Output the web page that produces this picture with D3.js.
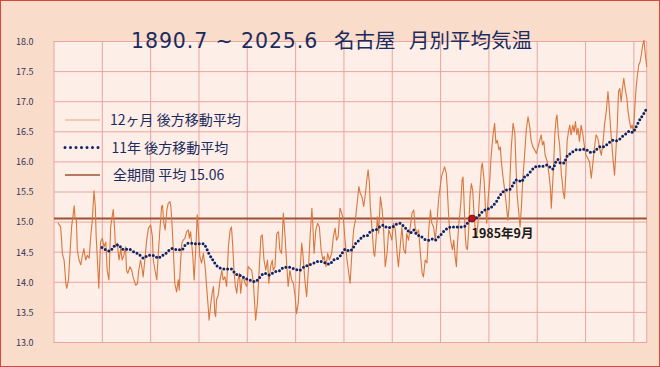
<!DOCTYPE html>
<html>
<head>
<meta charset="utf-8">
<script src="https://cdn.jsdelivr.net/npm/d3@7/dist/d3.min.js"></script>
<style>
  html, body { margin: 0; padding: 0; background: #fff; }
  svg { display: block; font-family: "Noto Sans CJK JP", "Noto Sans", sans-serif; }
</style>
</head>
<body>
<div id="chart"></div>
<script>
// 12ヶ月 後方移動平均 [年(小数), 気温]  ※画像から読み取り
const avg12m = [
  [1891.4,14.99],[1892.0,14.92],[1892.2,14.73],[1892.4,14.48],[1892.8,14.37],[1893.2,13.98],[1893.4,13.90],
  [1893.8,14.04],[1894.1,14.43],[1894.5,14.92],[1894.8,15.09],[1895.1,15.27],[1895.3,15.06],[1895.6,15.03],
  [1895.8,14.54],[1896.2,14.37],[1896.6,14.29],[1896.9,14.42],[1897.3,14.56],[1897.7,14.37],[1898.1,14.45],
  [1898.5,14.40],[1898.9,14.79],[1899.2,15.01],[1899.6,15.52],[1899.9,15.26],[1900.1,14.76],[1900.5,14.20],
  [1900.7,13.90],[1901.1,14.67],[1901.5,14.73],[1901.9,14.59],[1902.3,14.67],[1902.6,14.20],[1903.0,14.04],
  [1903.4,14.92],[1903.8,15.12],[1904.0,15.21],[1904.3,14.87],[1904.5,14.59],[1904.9,14.65],[1905.3,14.37],
  [1905.7,14.56],[1906.0,14.37],[1906.4,14.45],[1906.8,14.59],[1907.0,14.20],[1907.3,14.15],[1907.8,14.26],
  [1908.2,14.20],[1908.5,14.09],[1909.1,13.95],[1909.5,13.98],[1909.8,14.20],[1910.2,14.37],[1910.6,14.20],
  [1910.8,14.09],[1911.1,14.32],[1911.6,14.70],[1912.0,14.90],[1912.5,14.95],[1912.9,14.76],[1913.1,14.37],
  [1913.5,14.20],[1913.9,14.04],[1914.2,14.43],[1914.6,14.87],[1915.0,15.26],[1915.2,15.28],[1915.5,14.98],
  [1915.8,14.87],[1916.2,15.20],[1916.5,15.31],[1916.9,15.34],[1917.1,15.26],[1917.4,14.92],[1917.7,14.48],
  [1918.0,13.98],[1918.4,13.84],[1918.8,14.04],[1919.0,13.87],[1919.3,14.32],[1919.6,14.65],[1919.9,14.70],
  [1920.3,14.73],[1920.7,14.84],[1921.1,14.87],[1921.3,14.73],[1921.6,14.84],[1922.1,14.43],[1922.4,14.04],
  [1922.8,14.59],[1923.1,15.12],[1923.4,14.81],[1923.7,14.43],[1924.1,14.32],[1924.5,14.48],[1924.9,14.26],
  [1925.3,13.87],[1925.6,13.59],[1925.8,13.37],[1926.2,13.65],[1926.5,13.82],[1926.8,13.93],[1927.1,13.48],
  [1927.3,13.43],[1927.5,13.71],[1927.9,13.79],[1928.3,14.04],[1928.7,14.20],[1929.0,14.04],[1929.4,14.09],
  [1929.8,13.93],[1930.2,14.59],[1930.6,14.87],[1930.9,14.92],[1931.2,14.59],[1931.5,14.15],[1931.8,13.93],
  [1932.1,13.82],[1932.4,14.04],[1932.7,14.15],[1933.0,13.82],[1933.3,14.04],[1933.6,14.09],[1934.0,13.98],
  [1934.4,13.93],[1934.7,14.26],[1935.5,14.20],[1935.9,13.98],[1936.4,13.37],[1936.8,13.65],[1937.2,14.20],
  [1937.6,14.76],[1937.9,14.79],[1938.3,14.37],[1938.7,14.20],[1939.1,14.37],[1939.4,13.98],[1939.8,14.26],
  [1940.2,14.37],[1940.4,14.20],[1940.8,14.26],[1941.2,14.81],[1941.6,14.84],[1941.9,14.54],[1942.3,14.48],
  [1942.7,15.15],[1943.1,14.76],[1943.5,14.26],[1943.8,13.93],[1944.2,14.20],[1944.6,14.04],[1945.0,13.98],
  [1945.4,13.76],[1945.7,13.48],[1946.1,13.65],[1946.5,14.20],[1946.9,14.65],[1947.2,14.43],[1947.6,14.04],
  [1948.0,13.76],[1948.4,14.20],[1948.8,14.76],[1949.2,15.23],[1949.4,14.98],[1949.7,14.48],[1950.1,14.87],
  [1950.5,14.98],[1950.9,14.92],[1951.3,14.54],[1951.7,14.37],[1952.0,14.43],[1952.4,14.26],[1952.8,14.48],
  [1953.2,14.37],[1953.7,14.48],[1954.1,14.76],[1954.5,14.90],[1954.8,14.70],[1955.2,14.76],[1955.6,15.23],
  [1956.0,15.15],[1956.4,15.03],[1956.8,14.65],[1957.2,14.37],[1957.6,14.15],[1957.9,13.98],[1958.3,14.48],
  [1958.7,14.87],[1959.1,15.03],[1959.5,15.31],[1959.9,15.59],[1960.2,15.48],[1960.6,15.42],[1961.0,15.26],
  [1961.4,15.48],[1961.7,15.70],[1962.0,15.87],[1962.3,15.64],[1962.5,15.26],[1962.9,14.87],[1963.3,14.48],
  [1963.5,14.43],[1963.8,14.70],[1964.1,15.09],[1964.4,14.81],[1964.8,15.42],[1965.2,15.20],[1965.5,14.92],
  [1965.9,14.26],[1966.3,14.48],[1966.7,14.87],[1967.0,14.81],[1967.4,14.70],[1967.8,14.98],[1968.2,14.87],
  [1968.6,14.48],[1968.9,14.26],[1969.3,14.59],[1969.7,14.92],[1970.1,14.54],[1970.5,14.48],[1970.8,14.81],
  [1971.2,14.70],[1971.6,14.92],[1972.0,15.15],[1972.4,15.20],[1972.7,14.92],[1973.1,14.81],[1973.5,14.87],
  [1973.9,14.48],[1974.3,14.15],[1974.6,14.09],[1975.0,14.37],[1975.4,14.32],[1975.8,14.87],[1976.2,15.20],
  [1976.5,14.98],[1976.9,14.92],[1977.3,14.70],[1977.7,15.03],[1978.1,15.42],[1978.7,15.75],[1979.4,15.92],
  [1979.8,15.81],[1980.0,15.59],[1980.3,15.15],[1980.6,14.81],[1980.9,14.65],[1981.2,14.54],[1981.5,14.70],
  [1981.8,14.43],[1982.1,14.26],[1982.3,14.59],[1982.6,14.92],[1983.1,15.31],[1983.4,15.70],[1983.6,15.75],
  [1983.8,15.42],[1984.1,14.81],[1984.3,14.59],[1984.6,14.54],[1984.9,14.87],[1985.2,15.42],[1985.5,15.64],
  [1985.8,15.53],[1986.1,15.15],[1986.4,14.87],[1986.7,14.76],[1987.0,14.98],[1987.4,15.48],[1987.8,15.92],
  [1988.0,15.98],[1988.4,15.70],[1988.7,15.26],[1989.0,14.98],[1989.3,15.37],[1989.7,15.70],[1990.0,16.09],
  [1990.4,16.42],[1990.8,16.64],[1991.1,16.31],[1991.4,16.36],[1991.8,16.20],[1992.1,16.25],[1992.3,16.03],
  [1992.7,15.75],[1993.1,15.53],[1993.5,15.26],[1993.8,15.03],[1994.1,15.26],[1994.3,15.75],[1994.6,16.25],
  [1995.0,16.64],[1995.4,16.48],[1995.7,15.87],[1995.9,15.48],[1996.3,15.15],[1996.6,14.92],[1996.9,15.26],
  [1997.2,15.70],[1997.6,16.09],[1998.0,16.53],[1998.4,16.75],[1998.8,16.58],[1999.1,16.36],[1999.5,16.25],
  [1999.9,16.20],[2000.3,16.14],[2000.7,16.25],[2001.0,16.34],[2001.4,16.45],[2001.7,16.28],[2002.0,16.34],
  [2002.3,16.11],[2002.8,16.00],[2003.2,15.78],[2003.5,15.56],[2003.7,15.23],[2003.9,15.50],[2004.2,15.89],
  [2004.5,16.45],[2004.8,16.72],[2005.0,16.78],[2005.3,16.45],[2005.6,16.28],[2006.0,15.78],[2006.2,15.67],
  [2006.4,15.50],[2006.7,15.39],[2007.0,15.78],[2007.3,16.34],[2007.6,16.50],[2007.9,16.61],[2008.2,16.45],
  [2008.6,16.61],[2008.9,16.50],[2009.2,16.67],[2009.5,16.45],[2009.8,16.56],[2010.1,16.34],[2010.5,16.61],
  [2010.9,16.45],[2011.3,16.23],[2011.6,16.11],[2012.0,16.06],[2012.4,16.00],[2012.8,15.73],[2013.2,16.00],
  [2013.6,16.28],[2013.9,16.45],[2014.3,16.39],[2014.7,16.23],[2015.1,16.11],[2015.5,16.34],[2015.8,16.61],
  [2016.2,16.83],[2016.6,17.17],[2016.9,16.89],[2017.2,16.56],[2017.5,16.28],[2017.8,16.00],[2018.1,15.78],
  [2018.4,16.17],[2018.7,16.56],[2019.0,17.17],[2019.3,17.22],[2019.6,17.00],[2019.9,17.22],[2020.2,17.39],
  [2020.5,17.22],[2020.9,17.06],[2021.1,16.89],[2021.4,16.72],[2021.8,16.56],[2022.1,16.61],[2022.4,16.50],
  [2022.7,16.89],[2023.0,17.22],[2023.3,17.44],[2023.6,17.61],[2023.9,17.66],[2024.2,17.78],[2024.5,17.94],
  [2024.8,18.02],[2025.1,17.78],[2025.42,17.58]
];

// 11年 後方移動平均 [年(小数), 気温]
const avg11y = [
  [1901.42,14.58],[1902.3,14.54],[1903.2,14.52],[1903.8,14.56],[1904.5,14.62],[1905.3,14.62],[1906.0,14.55],
  [1906.8,14.55],[1907.6,14.55],[1908.3,14.52],[1909.1,14.49],[1909.8,14.47],[1910.4,14.42],[1911.0,14.40],
  [1911.7,14.44],[1912.5,14.45],[1913.5,14.44],[1914.2,14.40],[1915.0,14.44],[1915.8,14.47],[1916.5,14.52],
  [1917.3,14.56],[1918.0,14.55],[1918.8,14.54],[1919.6,14.54],[1920.3,14.61],[1921.1,14.65],[1921.8,14.65],
  [1922.6,14.64],[1923.3,14.64],[1924.5,14.64],[1925.3,14.55],[1925.8,14.47],[1926.4,14.40],[1927.1,14.32],
  [1927.9,14.25],[1928.7,14.23],[1929.4,14.22],[1930.2,14.22],[1930.9,14.22],[1931.7,14.15],[1932.4,14.12],
  [1933.2,14.11],[1934.0,14.06],[1934.7,14.05],[1935.3,14.03],[1936.3,14.01],[1937.2,14.07],[1938.4,14.15],
  [1939.5,14.12],[1940.6,14.17],[1941.8,14.19],[1942.9,14.25],[1944.1,14.25],[1945.2,14.22],[1946.3,14.20],
  [1947.5,14.26],[1948.6,14.29],[1949.7,14.32],[1950.9,14.35],[1952.0,14.33],[1953.2,14.30],[1954.1,14.37],
  [1955.1,14.40],[1955.8,14.45],[1956.8,14.55],[1957.7,14.52],[1958.5,14.56],[1959.2,14.65],[1960.0,14.70],
  [1961.0,14.77],[1961.7,14.77],[1962.5,14.84],[1963.3,14.87],[1964.0,14.88],[1964.8,14.93],[1965.5,14.95],
  [1966.3,14.91],[1967.0,14.91],[1967.8,14.93],[1968.6,14.97],[1969.3,14.98],[1970.1,14.93],[1970.8,14.88],
  [1971.6,14.82],[1972.4,14.87],[1973.1,14.79],[1973.9,14.77],[1975.0,14.71],[1975.8,14.70],[1976.5,14.72],
  [1977.3,14.70],[1978.1,14.76],[1978.7,14.80],[1979.4,14.86],[1980.2,14.90],[1980.9,14.92],[1981.7,14.92],
  [1982.5,14.92],[1983.2,14.92],[1984.0,14.93],[1984.7,14.99],[1985.67,15.06],[1986.6,15.07],[1987.4,15.12],
  [1988.1,15.18],[1988.9,15.21],[1989.7,15.23],[1990.4,15.27],[1991.2,15.34],[1991.9,15.43],[1992.7,15.50],
  [1993.4,15.53],[1994.2,15.54],[1995.0,15.62],[1995.6,15.70],[1996.1,15.70],[1996.9,15.67],[1997.6,15.75],
  [1998.4,15.79],[1999.1,15.85],[1999.9,15.91],[2000.7,15.93],[2001.4,15.92],[2002.2,15.94],[2002.8,15.95],
  [2003.6,15.90],[2004.1,15.88],[2004.6,15.98],[2005.2,16.04],[2005.8,15.98],[2006.6,15.98],[2007.1,16.07],
  [2007.9,16.13],[2008.6,16.17],[2009.4,16.20],[2010.2,16.20],[2010.9,16.21],[2011.7,16.20],[2012.4,16.16],
  [2013.2,16.16],[2013.9,16.20],[2014.7,16.25],[2015.5,16.25],[2016.2,16.28],[2017.0,16.33],[2017.7,16.36],
  [2018.5,16.35],[2019.3,16.38],[2020.0,16.43],[2020.8,16.47],[2021.5,16.51],[2022.3,16.49],[2022.9,16.57],
  [2023.4,16.64],[2024.0,16.72],[2024.6,16.78],[2025.1,16.85],[2025.42,16.88]
];

const overallMean = 15.06;
const markerPoint = [1985 + 8 / 12, 15.06];
const markerLabel = "1985年9月";
const yTicks = [13.0, 13.5, 14.0, 14.5, 15.0, 15.5, 16.0, 16.5, 17.0, 17.5, 18.0];
const legendLabels = ["12ヶ月 後方移動平均", "11年 後方移動平均", "全期間 平均 15.06"];
const titleParts = ["1890.7 ~ 2025.6", "名古屋", "月別平均気温"];

const W = 660, H = 367;
const plot = { left: 54, top: 41.5, right: 646.7, bottom: 342.5 };

const svg = d3.select("#chart").append("svg")
  .attr("width", W)
  .attr("height", H);

// 背景
svg.append("rect")
  .attr("x", 0.5).attr("y", 0.5)
  .attr("width", W - 1).attr("height", H - 1)
  .attr("fill", "#fadccb")
  .attr("stroke", "#d9473c")
  .attr("stroke-width", 1);

svg.append("rect")
  .attr("x", plot.left).attr("y", plot.top)
  .attr("width", plot.right - plot.left)
  .attr("height", plot.bottom - plot.top)
  .attr("fill", "#fdeee7");

const x = d3.scaleLinear()
  .domain([1890.5, 2025 + 5 / 12])
  .range([plot.left, plot.right]);

const y = d3.scaleLinear()
  .domain([13, 18])
  .range([plot.bottom, plot.top]);

// グリッド（縦線は11年ごと）
const vGrid = d3.range(1890.5 + 11, 2025, 11);
svg.selectAll("line.vgrid").data(vGrid).enter()
  .append("line")
  .attr("class", "vgrid")
  .attr("x1", d => x(d)).attr("x2", d => x(d))
  .attr("y1", plot.top).attr("y2", plot.bottom)
  .attr("stroke", "#eba4a0")
  .attr("stroke-width", 1);

svg.selectAll("line.hgrid").data(yTicks).enter()
  .append("line")
  .attr("class", "hgrid")
  .attr("x1", plot.left).attr("x2", plot.right)
  .attr("y1", d => y(d)).attr("y2", d => y(d))
  .attr("stroke", "#eba4a0")
  .attr("stroke-width", 1);

svg.append("rect")
  .attr("x", plot.left).attr("y", plot.top)
  .attr("width", plot.right - plot.left)
  .attr("height", plot.bottom - plot.top)
  .attr("fill", "none")
  .attr("stroke", "#eba4a0");

// Y軸ラベル
svg.append("g")
  .attr("transform", `translate(${plot.left - 17.5},0)`)
  .call(d3.axisLeft(y).tickValues(yTicks).tickFormat(d3.format(".1f")).tickSize(0))
  .call(g => g.select(".domain").remove())
  .selectAll("text")
  .attr("fill", "#2f3656")
  .style("font-size", "9px")
  .style("font-family", "Noto Sans CJK JP");

// 全期間平均
svg.append("line")
  .attr("x1", plot.left).attr("x2", plot.right)
  .attr("y1", y(overallMean)).attr("y2", y(overallMean))
  .attr("stroke", "#9c5230")
  .attr("stroke-width", 2);

// 12ヶ月移動平均
const line = d3.line()
  .x(d => x(d[0]))
  .y(d => y(d[1]));

svg.append("path")
  .datum(avg12m)
  .attr("fill", "none")
  .attr("stroke", "#d8773d")
  .attr("stroke-width", 1.1)
  .attr("stroke-linejoin", "round")
  .attr("d", line);

// 11年移動平均（点線）
svg.append("path")
  .datum(avg11y)
  .attr("fill", "none")
  .attr("stroke", "#0e2466")
  .attr("stroke-width", 3)
  .attr("stroke-linecap", "round")
  .attr("stroke-dasharray", "0 3.8")
  .attr("d", d3.line().x(d => x(d[0])).y(d => y(d[1])).curve(d3.curveMonotoneX));

// 1985年9月 マーカー
svg.append("circle")
  .attr("cx", x(markerPoint[0]))
  .attr("cy", y(markerPoint[1]))
  .attr("r", 3.5)
  .attr("fill", "#c0101a")
  .attr("stroke", "#6a1010")
  .attr("stroke-width", 0.8);

svg.append("text")
  .attr("x", x(markerPoint[0]) - 0.5)
  .attr("y", y(markerPoint[1]) + 20)
  .attr("fill", "#1a1a1a")
  .style("font-size", "12.5px")
  .style("font-weight", "bold")
  .text(markerLabel);

// タイトル
const title = svg.append("text")
  .attr("y", 48)
  .attr("fill", "#1c2b5e")
  .style("font-size", "20.5px");

title.append("tspan")
  .attr("x", 131)
  .style("font-family", "DejaVu Sans")
  .style("letter-spacing", "0.9px")
  .text(titleParts[0]);
title.append("tspan")
  .attr("x", 334)
  .text(titleParts[1]);
title.append("tspan")
  .attr("x", 409)
  .text(titleParts[2]);

// 凡例
const legendY = [120, 147.5, 175];
const legend = svg.selectAll(".legend")
  .data(legendLabels)
  .enter().append("g")
  .attr("class", "legend")
  .attr("transform", (d, i) => `translate(0,${legendY[i]})`);

legend.append("line")
  .attr("x1", 65).attr("x2", 100)
  .attr("y1", 0).attr("y2", 0)
  .attr("stroke", (d, i) => ["#e6a57c", "#0e2466", "#9c5230"][i])
  .attr("stroke-width", (d, i) => [1.2, 3, 1.5][i])
  .attr("stroke-linecap", (d, i) => i === 1 ? "round" : "butt")
  .attr("stroke-dasharray", (d, i) => i === 1 ? "0 5.5" : null);

legend.append("text")
  .attr("x", (d, i) => [110, 111.5, 113][i])
  .attr("y", 0)
  .attr("dy", "0.36em")
  .attr("fill", "#1c2b5e")
  .style("font-size", "14px")
  .text(d => d);
</script>
</body>
</html>
